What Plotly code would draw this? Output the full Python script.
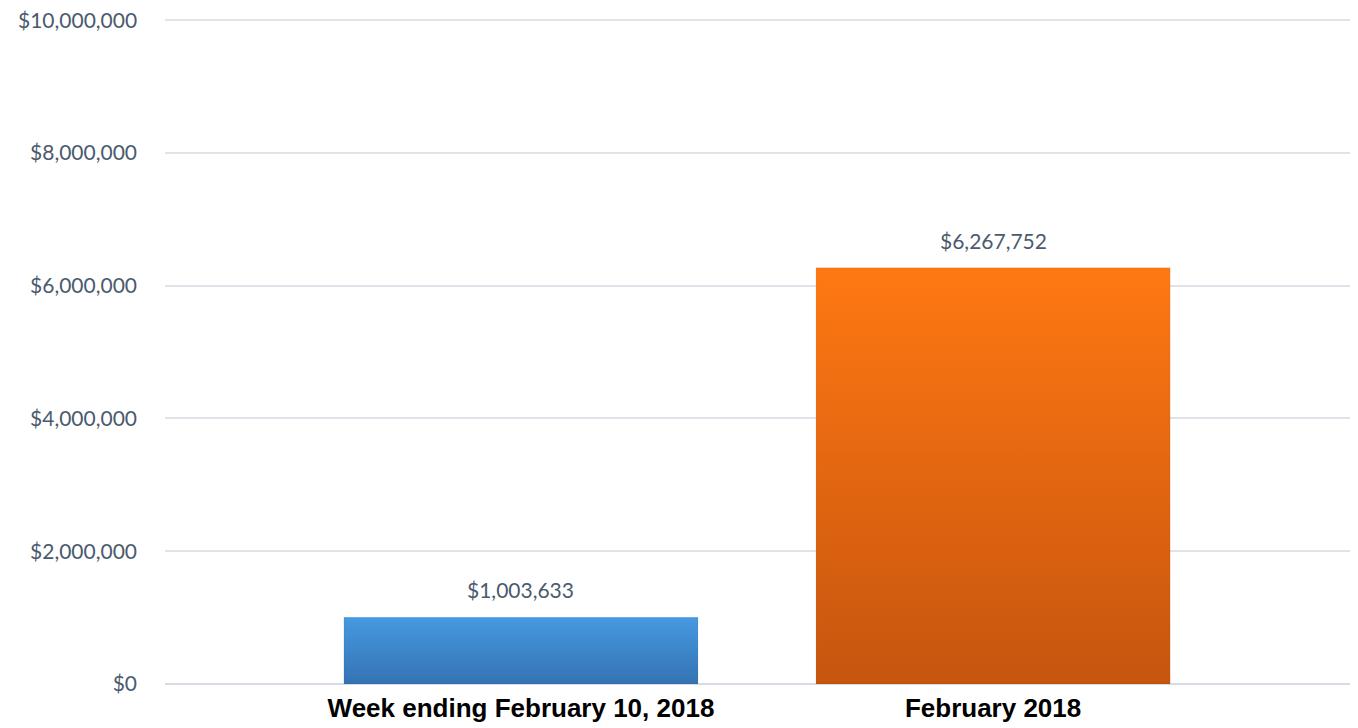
import plotly.graph_objects as go

categories = ["Week ending February 10, 2018", "February 2018"]
values = [1003633, 6267752]
top_colors = ["#4699e2", "#ff7813"]
bottom_colors = ["#3473b2", "#c6550e"]
y_ticks = [0, 2000000, 4000000, 6000000, 8000000, 10000000]
y_tick_labels = ["$0", "$2,000,000", "$4,000,000", "$6,000,000", "$8,000,000", "$10,000,000"]

tick_font = dict(family="Lato, Open Sans, sans-serif", size=21, color="#4b5a6e")
half_width = 0.375
fig = go.Figure()
for i, (cat, v) in enumerate(zip(categories, values)):
    xs = [i - half_width, i + half_width, i + half_width, i - half_width, i - half_width]
    ys = [0, 0, v, v, 0]
    fig.add_trace(go.Scatter(
        x=xs, y=ys, mode="lines", fill="toself",
        line=dict(width=1, color="rgba(0,0,0,0.06)"),
        fillgradient=dict(type="vertical",
                          colorscale=[[0, bottom_colors[i]], [1, top_colors[i]]]),
        hoverinfo="skip", showlegend=False,
    ))
    fig.add_annotation(x=i, y=v, text=f"${v:,}", showarrow=False,
                       yanchor="bottom", yshift=13, font=tick_font)

# top tick label drawn as annotation (it sits at the paper edge)
fig.add_annotation(x=0, xref="paper", y=y_ticks[-1], yref="y", text=y_tick_labels[-1],
                   showarrow=False, xanchor="right", yanchor="middle", xshift=-26,
                   font=tick_font)

fig.update_layout(
    width=1350, height=720,
    margin=dict(l=157, r=8, t=10, b=44),
    paper_bgcolor="white", plot_bgcolor="white",
    xaxis=dict(range=[-0.754, 1.756], tickvals=[0, 1], ticktext=categories,
               showgrid=False, zeroline=False, showline=False, ticks="",
               automargin=False,
               tickfont=dict(family="Liberation Sans, Arial, sans-serif", size=26, color="#000000",
                             weight="bold"),
               ticklabelstandoff=6),
    yaxis=dict(range=[0, 10030000], tickvals=y_ticks, ticktext=y_tick_labels[:-1] + [""],
               showgrid=True, gridcolor="#dfe4ea", gridwidth=1.5,
               zeroline=True, zerolinecolor="#d6dce4", zerolinewidth=1.5,
               showline=False, ticks="", automargin=False,
               tickfont=tick_font,
               ticklabelstandoff=27),
)

fig.write_html("out.html")
